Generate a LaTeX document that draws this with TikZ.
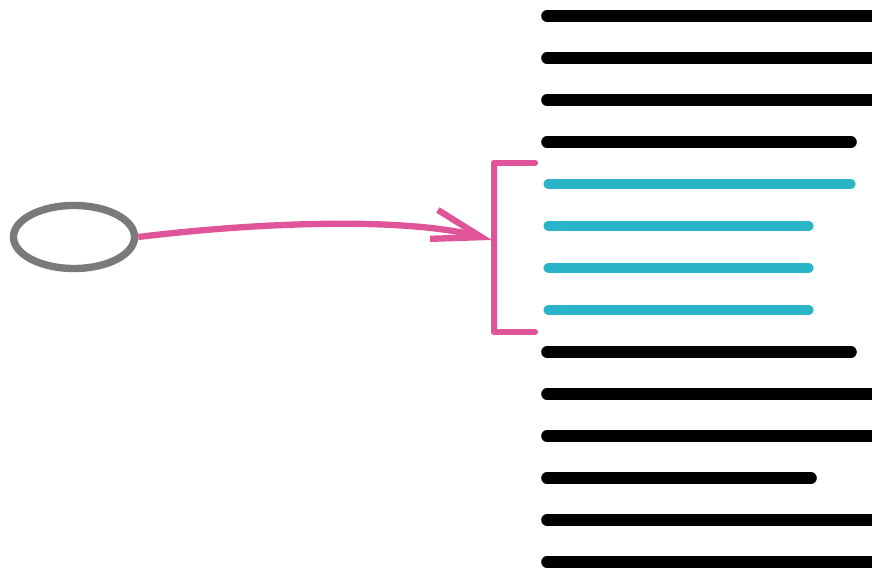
\documentclass[tikz,border=0pt]{standalone}
\usetikzlibrary{shapes.geometric,arrows.meta}
\definecolor{hilite}{HTML}{E0559A}
\definecolor{selcyan}{HTML}{2AB4C8}
\definecolor{ovalgray}{HTML}{7A7A7A}
\begin{document}
\begin{tikzpicture}[x=0.01cm,y=-0.01cm,
    textline/.style={line width=3.3pt,line cap=round,black},
    selline/.style={line width=2.6pt,line cap=round,selcyan},
    pinkline/.style={line width=1.8pt,hilite}]
    \clip (0,0) rectangle (872,568);

    % lines of the document
    \foreach \y/\xe in {16/880,58/880,100/880,142/851,352/851,394/880,436/880,478/811,520/880,562/880}
        \draw[textline] (547,\y) -- (\xe,\y);
    \foreach \y/\xe in {184/851,226/809,268/809,310/809}
        \draw[selline] (548,\y) -- (\xe,\y);

    % the oval and the bracket
    \node (oval) at (74,237) [ellipse,draw=ovalgray,line width=2.1pt,minimum width=1.21cm,minimum height=0.63cm,inner sep=0pt] {};
    \coordinate (top) at (535,163);
    \coordinate (bot) at (535,332);
    \coordinate (tip) at (492,240);
    \draw[pinkline,line cap=round,line join=round] (top) -- (494,163) -- (494,332) -- (bot);

    \draw[pinkline,-{Straight Barb[length=14pt,width=8.5pt,line width=1.8pt]}]
        (oval.east) .. controls (270,221) and (410,218) .. (tip);
\end{tikzpicture}
\end{document}
